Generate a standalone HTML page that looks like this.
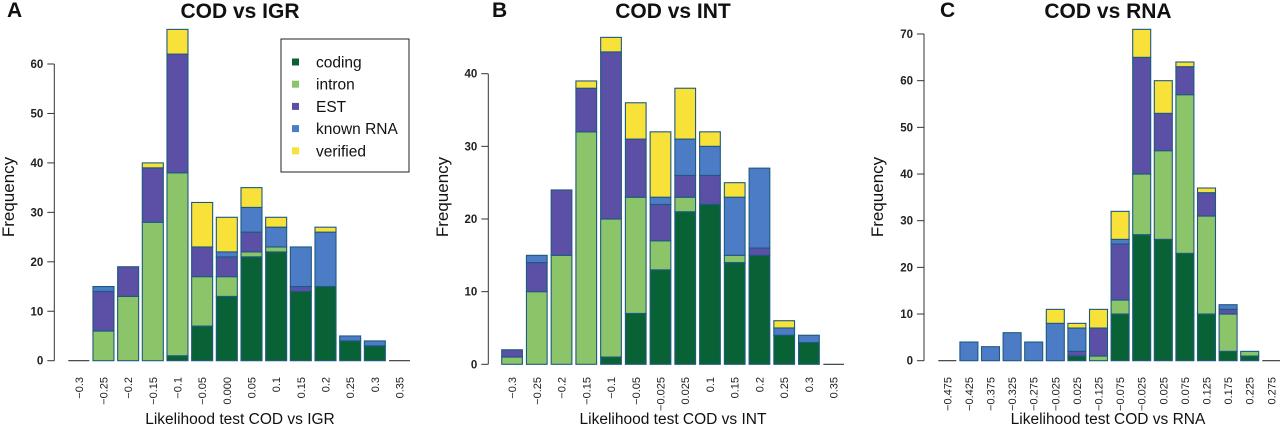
<!DOCTYPE html>
<html><head><meta charset="utf-8">
<style>
html,body{margin:0;padding:0;background:#fff;}
svg{display:block;font-family:"Liberation Sans",Arial,sans-serif;}
</style></head>
<body>
<svg id="chart" width="1280" height="433" viewBox="0 0 1280 433" xmlns="http://www.w3.org/2000/svg"></svg>
<script>
// Series order: coding, intron, EST, known RNA, verified
const seriesNames = ["coding","intron","EST","known RNA","verified"];
const seriesColors = ["#096236","#8cc46a","#5b4fa6","#4c7cc6","#f8e23a"];

const catsA = ["-0.3","-0.25","-0.2","-0.15","-0.1","-0.05","0.000","0.05","0.1","0.15","0.2","0.25","0.3","0.35"];
const codingA = [0,0,0,0,1,7,13,21,22,14,15,4,3,0];
const intronA = [0,6,13,28,37,10,4,1,1,0,0,0,0,0];
const estA    = [0,8,6,11,24,6,4,4,0,1,0,0,0,0];
const knownA  = [0,1,0,0,0,0,1,5,4,8,11,1,1,0];
const verifA  = [0,0,0,1,5,9,7,4,2,0,1,0,0,0];
const ticksA  = [0,10,20,30,40,50,60];

const catsB = ["-0.3","-0.25","-0.2","-0.15","-0.1","-0.05","-0.025","0.025","0.1","0.15","0.2","0.25","0.3","0.35"];
const codingB = [0,0,0,0,1,7,13,21,22,14,15,4,3,0];
const intronB = [1,10,15,32,19,16,4,2,0,1,0,0,0,0];
const estB    = [1,4,9,6,23,8,5,3,4,0,1,0,0,0];
const knownB  = [0,1,0,0,0,0,1,5,4,8,11,1,1,0];
const verifB  = [0,0,0,1,2,5,9,7,2,2,0,1,0,0];
const ticksB  = [0,10,20,30,40];

const catsC = ["-0.475","-0.425","-0.375","-0.325","-0.275","-0.025","0.025","-0.125","-0.075","-0.025","0.025","0.075","0.125","0.175","0.225","0.275"];
const codingC = [0,0,0,0,0,0,1,0,10,27,26,23,10,2,1,0];
const intronC = [0,0,0,0,0,0,0,1,3,13,19,34,21,8,1,0];
const estC    = [0,0,0,0,0,0,1,6,12,25,8,6,5,1,0,0];
const knownC  = [0,4,3,6,4,8,5,0,1,0,0,0,0,1,0,0];
const verifC  = [0,0,0,0,0,3,1,4,6,6,7,1,1,0,0,0];
const ticksC  = [0,10,20,30,40,50,60,70];

const NS="http://www.w3.org/2000/svg";
const svg=document.getElementById("chart");
function mk(tag,attrs,parent){const e=document.createElementNS(NS,tag);for(const k in attrs)e.setAttribute(k,attrs[k]);(parent||svg).appendChild(e);return e;}

function panel(cfg){
  const g=mk("g",{});
  
  
  const yS=v=>cfg.y0-v*cfg.unit;
  const xS=i=>cfg.x0+i*cfg.pitch;
  const L=mk("text",{x:cfg.letterX,y:17,"font-size":21,"font-weight":"bold",fill:"#111"},g);
  L.textContent=cfg.letter;
  
  
  const T=mk("text",{x:cfg.titleX,y:18,"font-size":21,"font-weight":"bold","text-anchor":"middle",fill:"#111"},g);
  T.textContent=cfg.title;
  
  
  const ticks=cfg.ticks;
  const ax=mk("line",{x1:cfg.axisX,x2:cfg.axisX,y1:yS(ticks[0]),y2:yS(ticks[ticks.length-1]),stroke:"#333","stroke-width":1},g);
  
  
  ticks.forEach(t=>{
    const tl=mk("line",{x1:cfg.axisX-7,x2:cfg.axisX,y1:yS(t),y2:yS(t),stroke:"#333","stroke-width":1},g);
    
    
    const tx=mk("text",{x:cfg.axisX-11,y:yS(t)+4,"font-size":11.5,"font-weight":"bold","text-anchor":"end",fill:"#222"},g);
    tx.textContent=t;
    
    
  });
  const yl=mk("text",{x:0,y:0,"font-size":17,"text-anchor":"middle",fill:"#111",transform:`translate(${cfg.ylabX},197) rotate(-90)`},g);
  yl.textContent="Frequency";
  
  
  const series=cfg.series;
  cfg.cats.forEach((c,i)=>{
    let cum=0;
    const x=xS(i);
    let total=0; series.forEach(s=>total+=s[i]);
    if(total===0){
      const z=mk("line",{x1:x,x2:x+cfg.bw,y1:cfg.y0,y2:cfg.y0,stroke:"#333","stroke-width":1.2},g);
      
      
    }
    series.forEach((s,k)=>{
      const v=s[i]; if(!v) return;
      const r=mk("rect",{x:x,y:yS(cum+v),width:cfg.bw,height:v*cfg.unit,fill:seriesColors[k],stroke:"#1d5a80","stroke-width":1.1},g);
      
      
      cum+=v;
    });
    const lb=mk("text",{x:0,y:0,"font-size":11,"text-anchor":"end",fill:"#222",transform:`translate(${x+cfg.bw/2+4},377) rotate(-90)`},g);
    lb.textContent=c.replace("-","\u2212");
    
    
  });
  const xl=mk("text",{x:cfg.titleX,y:424,"font-size":15.5,"text-anchor":"middle",fill:"#111"},g);
  xl.textContent=cfg.xlabel;
  
  
}

panel({name:"panel-a",letter:"A",letterX:7,title:"COD vs IGR",titleX:240,xlabel:"Likelihood test COD vs IGR",
  cats:catsA,series:[codingA,intronA,estA,knownA,verifA],ticks:ticksA,
  y0:360.7,unit:4.945,x0:68.3,pitch:24.67,bw:21,axisX:54.3,ylabX:14});
panel({name:"panel-b",letter:"B",letterX:492,title:"COD vs INT",titleX:673,xlabel:"Likelihood test COD vs INT",
  cats:catsB,series:[codingB,intronB,estB,knownB,verifB],ticks:ticksB,
  y0:364.3,unit:7.265,x0:501.7,pitch:24.74,bw:20.7,axisX:488.3,ylabX:448});
panel({name:"panel-c",letter:"C",letterX:940,title:"COD vs RNA",titleX:1108,xlabel:"Likelihood test COD vs RNA",
  cats:catsC,series:[codingC,intronC,estC,knownC,verifC],ticks:ticksC,
  y0:360.7,unit:4.667,x0:938.3,pitch:21.6,bw:18,axisX:924,ylabX:883});

const lg=mk("g",{});


const lbx=mk("rect",{x:281,y:39,width:128,height:133,fill:"#fff",stroke:"#222","stroke-width":1},lg);


seriesNames.forEach((n,k)=>{
  const yy=62+k*22.2;
  const m=mk("rect",{x:292,y:yy-3.5,width:7,height:7,fill:seriesColors[k]},lg);
  
  
  const t=mk("text",{x:316,y:yy+5.5,"font-size":15.5,fill:"#111"},lg);
  t.textContent=n;
  
  
});
</script>
</body></html>
